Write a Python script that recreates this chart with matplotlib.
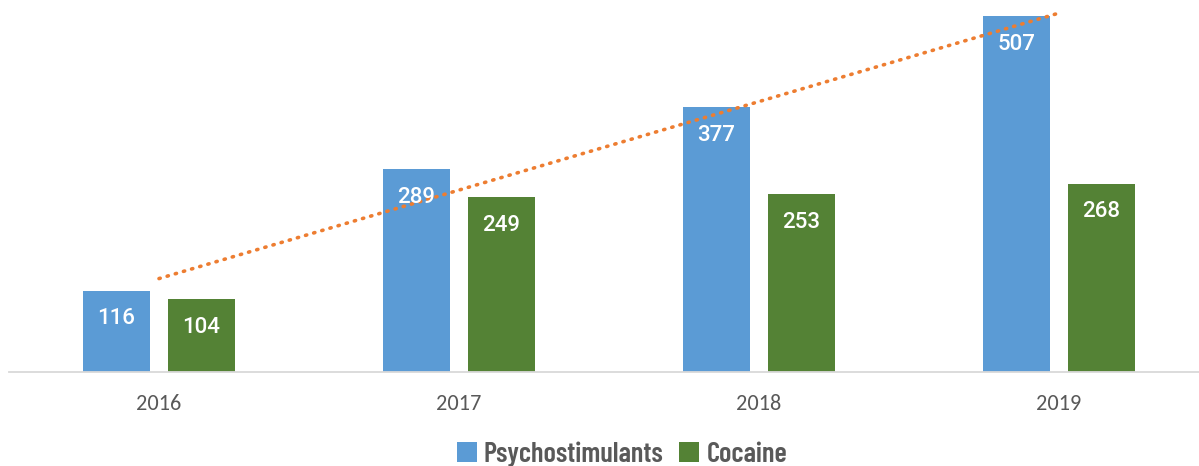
import matplotlib
matplotlib.use("Agg")
import matplotlib.pyplot as plt
import numpy as np

years = ["2016", "2017", "2018", "2019"]
psychostimulants = [116, 289, 377, 507]
cocaine = [104, 249, 253, 268]

BLUE = "#5B9BD5"
GREEN = "#548235"
ORANGE = "#ED7D31"
GREY = "#595959"

W, H = 1199, 466
fig = plt.figure(figsize=(W / 100, H / 100), dpi=100)
ax = fig.add_axes([9 / W, (H - 372) / H, 1200 / W, 372 / H])

x = np.arange(len(years))
bw = 0.223
off = 0.1417
b1 = ax.bar(x - off, psychostimulants, bw, color=BLUE, label="Psychostimulants", zorder=2)
b2 = ax.bar(x + off, cocaine, bw, color=GREEN, label="Cocaine", zorder=2)

# linear trend of the psychostimulant series
coef = np.polyfit(np.arange(1, len(years) + 1), psychostimulants, 1)
tx = np.array([1, len(years)])
ax.plot(x[[0, -1]], np.polyval(coef, tx), color=ORANGE, lw=2.6,
        linestyle=(0, (0.35, 2.0)), dash_capstyle="round", zorder=3)

px_per_unit = 372 / 530
for bars in (b1, b2):
    for r in bars:
        v = r.get_height()
        ax.text(r.get_x() + r.get_width() / 2, v - 28 / px_per_unit, f"{v:.0f}",
                ha="center", va="center", color="white", fontsize=16,
                family="Roboto", weight="medium", zorder=4)

ax.set_xlim(-0.5, 3.5)
ax.set_ylim(0, 530)
ax.set_yticks([])
ax.set_xticks(x)
ax.set_xticklabels(years, family="Carlito", fontsize=16, color=GREY)
ax.tick_params(axis="x", length=0, pad=16)
for s in ("top", "right", "left"):
    ax.spines[s].set_visible(False)
ax.spines["bottom"].set_color("#D9D9D9")
ax.spines["bottom"].set_linewidth(1.3)

leg = fig.legend(handles=[b1, b2], loc="center", bbox_to_anchor=(622 / W, 1 - 454 / H),
                 ncol=2, frameon=False, handlelength=0.7, handleheight=0.7,
                 handletextpad=0.25, columnspacing=0.55,
                 prop={"family": "Barlow Condensed", "weight": "semibold", "size": 20.5})
for t in leg.get_texts():
    t.set_color(GREY)

fig.savefig("out.png", dpi=100)
